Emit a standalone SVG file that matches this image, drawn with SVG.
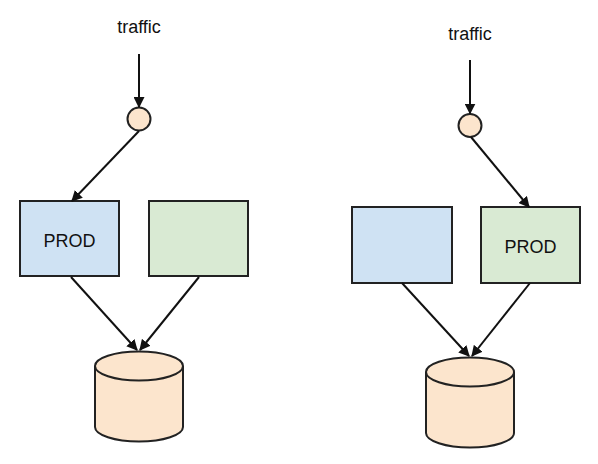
<svg xmlns="http://www.w3.org/2000/svg" width="598" height="464" viewBox="0 0 598 464">
<style>
text{font-family:"Liberation Sans",Arial,sans-serif;font-size:18px;fill:#111;text-anchor:middle}
.box{stroke:#222;stroke-width:2}
.blue{fill:#cfe2f3}.green{fill:#d9ead3}.orange{fill:#fce5cd}
.lb{stroke:#111;stroke-width:2;fill:none;marker-end:url(#ah)}
</style>
<defs>
<marker id="ah" viewBox="0 0 10 10" refX="9" refY="5" markerWidth="5.5" markerHeight="5.5" orient="auto" markerUnits="strokeWidth">
<path d="M0,0 L10,5 L0,10 z" fill="#111"/>
</marker>
</defs>
<rect width="598" height="464" fill="#fff"/>
<g id="left-traffic"><text x="139" y="33">traffic</text></g>
<g id="left-lb"><circle class="box orange" cx="139" cy="119" r="11.5"/></g>
<g id="left-prod"><rect class="box blue" x="20" y="201" width="99" height="75"/><text x="69.5" y="247">PROD</text></g>
<g id="left-green"><rect class="box green" x="149" y="201" width="99" height="75"/></g>
<g id="left-db">
<path class="box orange" d="M95,366 L95,427 A44,14.5 0 0 0 183,427 L183,366 A44,14.5 0 0 0 95,366 Z"/>
<path class="box" fill="none" d="M95,366 A44,14.5 0 0 0 183,366"/>
</g>
<g id="right-traffic"><text x="470" y="40">traffic</text></g>
<g id="right-lb"><circle class="box orange" cx="470" cy="125.5" r="11.5"/></g>
<g id="right-blue"><rect class="box blue" x="352" y="207" width="100" height="76"/></g>
<g id="right-prod"><rect class="box green" x="481" y="207" width="99" height="76"/><text x="530.5" y="253">PROD</text></g>
<g id="right-db">
<path class="box orange" d="M426,372 L426,433 A44,14.5 0 0 0 514,433 L514,372 A44,14.5 0 0 0 426,372 Z"/>
<path class="box" fill="none" d="M426,372 A44,14.5 0 0 0 514,372"/>
</g>
<g id="connectors">
<line class="lb" x1="139" y1="54" x2="139" y2="107"/>
<line class="lb" x1="139" y1="131" x2="72" y2="201"/>
<line class="lb" x1="71" y1="277" x2="137" y2="350"/>
<line class="lb" x1="199" y1="277" x2="140" y2="350"/>
<line class="lb" x1="470" y1="60" x2="470" y2="113.5"/>
<line class="lb" x1="471" y1="137" x2="529" y2="207"/>
<line class="lb" x1="402" y1="283" x2="469" y2="356"/>
<line class="lb" x1="530" y1="283" x2="472" y2="356"/>
</g>
</svg>
